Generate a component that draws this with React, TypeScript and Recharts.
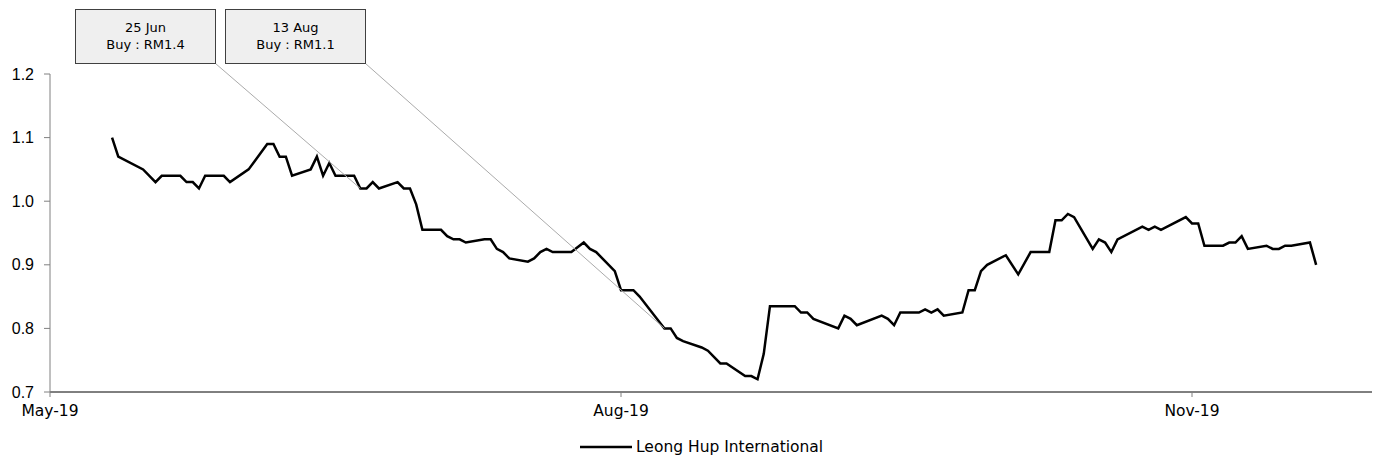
import React from 'react';
import { LineChart, Line, XAxis, YAxis, Legend, ReferenceDot } from 'recharts';

// Leong Hup International share price (RM), trading days
const dates = [
  '2019-05-16', '2019-05-17', '2019-05-21', '2019-05-23', '2019-05-24', '2019-05-27', '2019-05-28',
  '2019-05-29', '2019-05-30', '2019-05-31', '2019-06-03', '2019-06-04', '2019-06-07', '2019-06-10',
  '2019-06-11', '2019-06-12', '2019-06-13', '2019-06-14', '2019-06-17', '2019-06-18', '2019-06-19',
  '2019-06-20', '2019-06-21', '2019-06-24', '2019-06-25', '2019-06-26', '2019-06-27', '2019-06-28',
  '2019-07-01', '2019-07-02', '2019-07-03', '2019-07-04', '2019-07-05', '2019-07-08', '2019-07-09',
  '2019-07-10', '2019-07-11', '2019-07-12', '2019-07-15', '2019-07-16', '2019-07-17', '2019-07-18',
  '2019-07-19', '2019-07-22', '2019-07-23', '2019-07-24', '2019-07-25', '2019-07-26', '2019-07-29',
  '2019-07-31', '2019-08-01', '2019-08-02', '2019-08-05', '2019-08-06', '2019-08-07', '2019-08-08',
  '2019-08-09', '2019-08-13', '2019-08-14', '2019-08-15', '2019-08-16', '2019-08-19', '2019-08-20',
  '2019-08-22', '2019-08-23', '2019-08-26', '2019-08-27', '2019-08-28', '2019-08-29', '2019-08-30',
  '2019-09-03', '2019-09-04', '2019-09-05', '2019-09-06', '2019-09-10', '2019-09-11', '2019-09-12',
  '2019-09-13', '2019-09-17', '2019-09-18', '2019-09-19', '2019-09-20', '2019-09-23', '2019-09-24',
  '2019-09-25', '2019-09-26', '2019-09-27', '2019-09-30', '2019-10-01', '2019-10-02', '2019-10-03',
  '2019-10-04', '2019-10-07', '2019-10-09', '2019-10-11', '2019-10-14', '2019-10-15', '2019-10-16',
  '2019-10-17', '2019-10-18', '2019-10-21', '2019-10-22', '2019-10-23', '2019-10-24', '2019-10-25',
  '2019-10-29', '2019-10-30', '2019-10-31', '2019-11-01', '2019-11-05', '2019-11-06', '2019-11-07',
  '2019-11-08', '2019-11-11', '2019-11-12', '2019-11-13', '2019-11-14', '2019-11-15', '2019-11-18',
  '2019-11-19', '2019-11-20', '2019-11-21', '2019-11-22', '2019-11-25', '2019-11-26',
];

const prices = [
  1.10, 1.07, 1.05, 1.03, 1.04, 1.04, 1.03,
  1.03, 1.02, 1.04, 1.04, 1.03, 1.05, 1.09,
  1.09, 1.07, 1.07, 1.04, 1.05, 1.07, 1.04,
  1.06, 1.04, 1.04, 1.02, 1.02, 1.03, 1.02,
  1.03, 1.02, 1.02, 0.995, 0.955, 0.955, 0.945,
  0.94, 0.94, 0.935, 0.94, 0.94, 0.925, 0.92,
  0.91, 0.905, 0.91, 0.92, 0.925, 0.92, 0.92,
  0.935, 0.925, 0.92, 0.89, 0.86, 0.86, 0.86,
  0.85, 0.80, 0.80, 0.785, 0.78, 0.77, 0.765,
  0.745, 0.745, 0.725, 0.725, 0.72, 0.76, 0.835,
  0.835, 0.825, 0.825, 0.815, 0.80, 0.82, 0.815,
  0.805, 0.82, 0.815, 0.805, 0.825, 0.825, 0.83,
  0.825, 0.83, 0.82, 0.825, 0.86, 0.86, 0.89,
  0.90, 0.915, 0.885, 0.92, 0.92, 0.97, 0.97,
  0.98, 0.975, 0.925, 0.94, 0.935, 0.92, 0.94,
  0.96, 0.955, 0.96, 0.955, 0.975, 0.965, 0.965,
  0.93, 0.93, 0.935, 0.935, 0.945, 0.925, 0.93,
  0.925, 0.925, 0.93, 0.93, 0.935, 0.90,
];

const axisStart = '2019-05-06';
const axisEnd = '2019-12-05';
const tickDates = ['2019-05-06', '2019-08-06', '2019-11-06'];
const tickLabels = ['May-19', 'Aug-19', 'Nov-19'];
const yTicks = [0.7, 0.8, 0.9, 1.0, 1.1, 1.2];

const calloutDates = ['2019-06-25', '2019-08-13'];
const calloutTitles = ['25 Jun', '13 Aug'];
const calloutTexts = ['Buy : RM1.4', 'Buy : RM1.1'];

const seriesName = 'Leong Hup International';

const ts = (s: string) => new Date(s + 'T00:00:00Z').getTime();

const data = dates.map((d, i) => ({ t: ts(d), price: prices[i] }));
const tickTs = tickDates.map(ts);

// callout boxes sit above the plot
const BOX_LEFT = [75.5, 225.5];
const BOX_TOP = 9.5;
const BOX_W = 140;
const BOX_H = 54;

function Callout({ cx, cy, i }: { cx: number; cy: number; i: number }) {
  const x = BOX_LEFT[i];
  const mid = x + BOX_W / 2;
  return (
    <g>
      <line x1={x + BOX_W} y1={BOX_TOP + BOX_H} x2={cx} y2={cy} stroke="#ababab" strokeWidth={1} />
      <rect x={x} y={BOX_TOP} width={BOX_W} height={BOX_H} fill="#efefef" stroke="#404040" strokeWidth={1} />
      <text x={mid} y={32} textAnchor="middle" fontFamily="DejaVu Sans" fontSize={13} fill="#000">
        {calloutTitles[i]}
      </text>
      <text x={mid} y={49} textAnchor="middle" fontFamily="DejaVu Sans" fontSize={13} fill="#000">
        {calloutTexts[i]}
      </text>
    </g>
  );
}

function LegendContent() {
  return (
    <div style={{ display: 'flex', alignItems: 'center', height: 22, paddingLeft: 580 }}>
      <svg width={52} height={10}>
        <line x1={0} y1={5} x2={52} y2={5} stroke="#000" strokeWidth={2.5} />
      </svg>
      <span style={{ marginLeft: 4, fontFamily: 'DejaVu Sans', fontSize: 15.5, color: '#000', lineHeight: '22px' }}>
        {seriesName}
      </span>
    </div>
  );
}

export default function App() {
  return (
    <div style={{ position: 'absolute', left: 0, top: 0 }}>
      <LineChart width={1380} height={463} data={data} margin={{ top: 74, right: 8, left: 0, bottom: 0 }}>
        <XAxis
          dataKey="t"
          type="number"
          domain={[ts(axisStart), ts(axisEnd)]}
          ticks={tickTs}
          tickFormatter={(v: number) => tickLabels[tickTs.indexOf(v)] ?? ''}
          height={71}
          axisLine={{ stroke: '#000', strokeWidth: 1 }}
          tickLine={{ stroke: '#808080' }}
          tickSize={5}
          tickMargin={8}
          tick={{ fill: '#000', fontSize: 15.5, fontFamily: 'DejaVu Sans' }}
          interval={0}
        />
        <YAxis
          type="number"
          domain={[0.7, 1.2]}
          ticks={yTicks}
          tickFormatter={(v: number) => v.toFixed(1)}
          width={50}
          axisLine={{ stroke: '#808080' }}
          tickLine={{ stroke: '#808080' }}
          tickSize={6}
          tickMargin={10}
          tick={{ fill: '#000', fontSize: 16, fontFamily: 'Liberation Sans' }}
          interval={0}
        />
        {calloutDates.map((d, i) => (
          <ReferenceDot
            key={d}
            x={ts(d)}
            y={prices[dates.indexOf(d)]}
            r={2}
            ifOverflow="visible"
            shape={(p: any) => <Callout cx={p.cx} cy={p.cy} i={i} />}
          />
        ))}
        <Line
          type="linear"
          dataKey="price"
          name={seriesName}
          stroke="#000"
          strokeWidth={2.5}
          dot={false}
          isAnimationActive={false}
        />
        <Legend
          layout="horizontal"
          verticalAlign="middle"
          align="center"
          wrapperStyle={{ left: 0, top: 436, width: 1380 }}
          content={() => <LegendContent />}
        />
      </LineChart>
    </div>
  );
}
